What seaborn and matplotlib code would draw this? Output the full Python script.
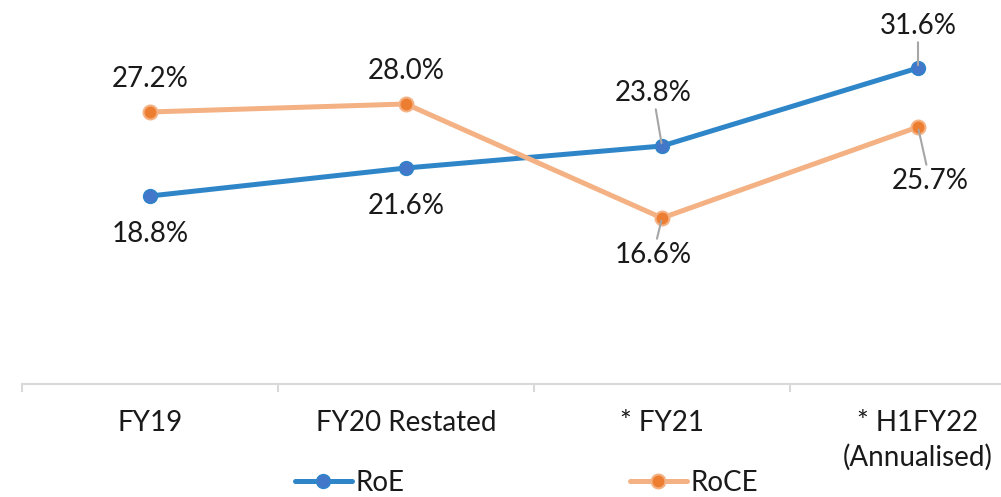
import matplotlib
matplotlib.use("Agg")
import matplotlib.pyplot as plt
import seaborn as sns
import pandas as pd

# Chart data
categories = ["FY19", "FY20 Restated", "* FY21", "* H1FY22\n(Annualised)"]
roe = [18.8, 21.6, 23.8, 31.6]
roce = [27.2, 28.0, 16.6, 25.7]

df = pd.DataFrame({"pos": range(len(categories)), "RoE": roe, "RoCE": roce})

sns.set_style("white")
plt.rcParams["font.family"] = ["Lato", "DejaVu Sans"]
plt.rcParams["text.color"] = "#1A1A1A"

fig = plt.figure(figsize=(10.01, 4.97), dpi=100)
ax = fig.add_axes([0.022, 0.2274, 0.978, 0.7042])

sns.lineplot(
    data=df, x="pos", y="RoE", ax=ax,
    color="#2E86C9", linewidth=3.6,
    marker="o", markersize=10, markerfacecolor="#4277C9",
    markeredgecolor="#2E86C9", markeredgewidth=1,
    label="RoE", legend=False
)
sns.lineplot(
    data=df, x="pos", y="RoCE", ax=ax,
    color="#F4B183", linewidth=3.6,
    marker="o", markersize=10, markerfacecolor="#ED7D31",
    markeredgecolor="#F4B183", markeredgewidth=1.5,
    label="RoCE", legend=False
)

# data labels: (dx, dy) offsets in pixels, leader line or not
lead = dict(arrowstyle="-", color="#A6A6A6", lw=1.5, shrinkA=0, shrinkB=2)
roe_offsets = [(0, -38, False), (0, -38, False), (-9, 53, True), (0, 42, True)]
roce_offsets = [(0, 33, False), (0, 33, False), (-9, -37, True), (12, -54, True)]

for i, (v, (dx, dy, ln)) in enumerate(zip(roe, roe_offsets)):
    ax.annotate(f"{v:.1f}%", xy=(i, v), xytext=(dx, dy), textcoords="offset pixels",
                ha="center", va="center", fontsize=20,
                arrowprops=lead if ln else None)
for i, (v, (dx, dy, ln)) in enumerate(zip(roce, roce_offsets)):
    ax.annotate(f"{v:.1f}%", xy=(i, v), xytext=(dx, dy), textcoords="offset pixels",
                ha="center", va="center", fontsize=20,
                arrowprops=lead if ln else None)

# axis styling
for s in ["left", "top", "right"]:
    ax.spines[s].set_visible(False)
ax.spines["bottom"].set_color("#D9D9D9")
ax.spines["bottom"].set_linewidth(1.5)
ax.set_yticks([])
ax.set_xticks(range(len(categories)))
ax.set_xticklabels(categories, fontsize=20, color="#1A1A1A", linespacing=1.35)
ax.set_xticks([-0.5, 0.5, 1.5, 2.5], minor=True)
ax.tick_params(axis="x", which="major", length=0, pad=19)
ax.tick_params(axis="x", which="minor", length=6, width=1.5, color="#D9D9D9", bottom=True)
ax.set_xlabel("")
ax.set_ylabel("")
ax.set_xlim(-0.5, -0.5 + 979 / 256)
ax.set_ylim(0, 35)

handles, labels = ax.get_legend_handles_labels()
fig.legend(handles, labels, loc="center", bbox_to_anchor=(0.526, 0.028), ncol=2,
           frameon=False, fontsize=20, handlelength=2.05, handletextpad=0.15,
           columnspacing=8.1)

fig.savefig("out.png", dpi=100)
